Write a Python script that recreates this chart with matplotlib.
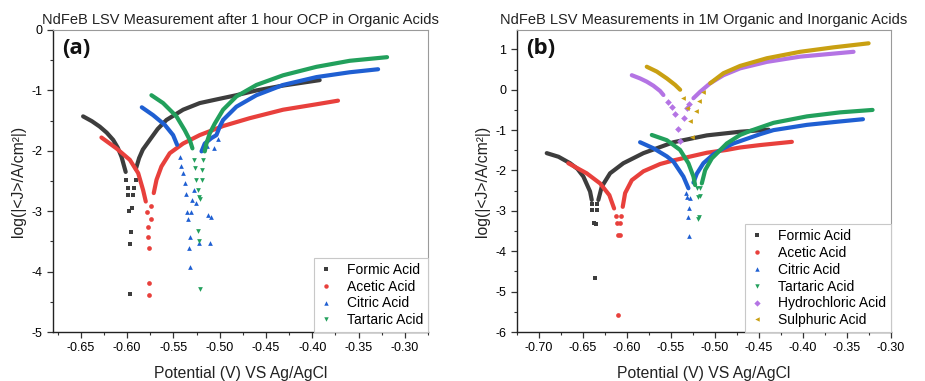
import matplotlib
matplotlib.use('Agg')
import matplotlib.pyplot as plt
from matplotlib.ticker import MultipleLocator, FormatStrFormatter
from matplotlib.lines import Line2D

plt.rcParams['font.family'] = ['Liberation Sans', 'DejaVu Sans']
plt.rcParams['axes.unicode_minus'] = False

# ---------------- Panel (a) data: (potential V, log|J|) ----------------
A_FORMIC_CATH = [(-0.6475, -1.43), (-0.638, -1.51), (-0.6295, -1.60), (-0.622, -1.70),
                 (-0.615, -1.82), (-0.610, -1.95), (-0.606, -2.10), (-0.6015, -2.35)]
A_FORMIC_DIP = [(-0.6007, -2.48), (-0.599, -2.62), (-0.599, -2.74), (-0.594, -2.74),
                (-0.598, -2.99), (-0.595, -2.95), (-0.5955, -3.35), (-0.597, -3.55),
                (-0.5965, -4.37), (-0.5925, -2.62), (-0.5906, -2.48)]
A_FORMIC_ANOD = [(-0.5905, -2.30), (-0.587, -2.12), (-0.583, -1.98), (-0.5755, -1.82),
                 (-0.567, -1.64), (-0.5575, -1.49), (-0.5395, -1.32), (-0.5215, -1.21),
                 (-0.5035, -1.15), (-0.482, -1.08), (-0.460, -1.00), (-0.4315, -0.92),
                 (-0.392, -0.83)]

A_ACETIC_CATH = [(-0.6277, -1.78), (-0.6115, -1.96), (-0.597, -2.15), (-0.588, -2.37),
                 (-0.5827, -2.65), (-0.5798, -2.84)]
A_ACETIC_DIP = [(-0.5784, -3.01), (-0.5773, -3.26), (-0.5776, -3.42), (-0.5758, -3.61),
                (-0.5766, -4.19), (-0.5758, -4.38), (-0.5737, -2.92), (-0.5747, -3.13)]
A_ACETIC_ANOD = [(-0.5712, -2.70), (-0.5682, -2.48), (-0.5629, -2.26), (-0.5539, -2.04),
                 (-0.5395, -1.88), (-0.5215, -1.74), (-0.4963, -1.59), (-0.4675, -1.46),
                 (-0.4315, -1.32), (-0.3955, -1.23), (-0.3722, -1.17)]

A_CITRIC_CATH = [(-0.5841, -1.28), (-0.5719, -1.41), (-0.5593, -1.57), (-0.5503, -1.74),
                 (-0.546, -1.90)]
A_CITRIC_DIP = [(-0.5431, -2.10), (-0.5413, -2.26), (-0.5395, -2.37), (-0.5377, -2.54),
                (-0.5359, -2.72), (-0.5352, -3.01), (-0.5341, -3.13), (-0.5323, -3.42),
                (-0.5330, -3.61), (-0.5323, -3.93), (-0.5305, -3.01), (-0.5294, -2.81),
                (-0.5251, -2.87), (-0.5276, -2.65), (-0.5226, -3.52), (-0.5107, -3.52),
                (-0.5122, -3.06), (-0.5096, -3.09), (-0.5140, -1.92), (-0.5060, -1.95),
                (-0.5020, -1.80)]
A_CITRIC_ANOD = [(-0.5196, -2.01), (-0.5161, -1.88), (-0.5089, -1.79), (-0.5035, -1.74),
                 (-0.4999, -1.60), (-0.4963, -1.49), (-0.4819, -1.27), (-0.4603, -1.08),
                 (-0.4315, -0.91), (-0.3955, -0.78), (-0.3595, -0.70), (-0.3289, -0.65)]

A_TARTARIC_CATH = [(-0.5737, -1.08), (-0.5611, -1.21), (-0.5467, -1.43), (-0.5377, -1.66),
                   (-0.5323, -1.82), (-0.5294, -1.96)]
A_TARTARIC_DIP = [(-0.5280, -2.15), (-0.5262, -2.29), (-0.5251, -2.48), (-0.5233, -2.65),
                  (-0.5226, -2.76), (-0.5233, -3.33), (-0.5222, -3.50), (-0.5215, -4.28),
                  (-0.5179, -2.15), (-0.5196, -2.32), (-0.5186, -2.48), (-0.5208, -2.79)]
A_TARTARIC_ANOD = [(-0.5161, -2.01), (-0.5143, -1.88), (-0.5107, -1.71), (-0.5053, -1.55),
                   (-0.4963, -1.32), (-0.4819, -1.10), (-0.4603, -0.91), (-0.4315, -0.75),
                   (-0.3955, -0.61), (-0.3595, -0.51), (-0.3192, -0.45)]

# ---------------- Panel (b) data ----------------
B_FORMIC_CATH = [(-0.6909, -1.57), (-0.6775, -1.66), (-0.6644, -1.82), (-0.6560, -1.96),
                 (-0.6493, -2.15), (-0.6417, -2.52), (-0.6398, -2.73)]
B_FORMIC_DIP = [(-0.6398, -2.83), (-0.6334, -2.83), (-0.6395, -2.99), (-0.6340, -2.99),
                (-0.6375, -3.31), (-0.6355, -3.33), (-0.6364, -4.66)]
B_FORMIC_ANOD = [(-0.6323, -2.73), (-0.6284, -2.40), (-0.6190, -2.07), (-0.6039, -1.82),
                 (-0.5811, -1.57), (-0.547, -1.30), (-0.509, -1.13), (-0.4713, -1.04),
                 (-0.439, -0.99)]

B_ACETIC_CATH = [(-0.6664, -1.82), (-0.6455, -2.07), (-0.6303, -2.32), (-0.6198, -2.61),
                 (-0.6144, -2.94)]
B_ACETIC_DIP = [(-0.6122, -3.13), (-0.6068, -3.13), (-0.6115, -3.29), (-0.6076, -3.29),
                (-0.6095, -3.60), (-0.6080, -3.60), (-0.6095, -5.57)]
B_ACETIC_ANOD = [(-0.6046, -2.90), (-0.6019, -2.56), (-0.5943, -2.24), (-0.5811, -2.02),
                 (-0.5622, -1.84), (-0.547, -1.75), (-0.525, -1.64), (-0.509, -1.56),
                 (-0.4864, -1.49), (-0.4713, -1.43), (-0.4485, -1.37), (-0.4125, -1.29)]

B_CITRIC_CATH = [(-0.5849, -1.30), (-0.5697, -1.45), (-0.5545, -1.65), (-0.547, -1.78),
                 (-0.5357, -2.15), (-0.53, -2.44)]
B_CITRIC_DIP = [(-0.5318, -2.65), (-0.5281, -2.69), (-0.5289, -2.94), (-0.5307, -3.14),
                (-0.5292, -3.61), (-0.5330, -2.56)]
B_CITRIC_ANOD = [(-0.5243, -2.30), (-0.5205, -2.08), (-0.513, -1.82), (-0.5016, -1.60),
                 (-0.4902, -1.45), (-0.4789, -1.33), (-0.4485, -1.10), (-0.4334, -1.00),
                 (-0.3955, -0.87), (-0.36, -0.79), (-0.3318, -0.73)]

B_TARTARIC_CATH = [(-0.5716, -1.12), (-0.5545, -1.25), (-0.5395, -1.49), (-0.53, -1.82),
                   (-0.5243, -2.15), (-0.5224, -2.36)]
B_TARTARIC_DIP = [(-0.5205, -2.44), (-0.5167, -2.44), (-0.5186, -2.66), (-0.5175, -3.14),
                  (-0.5186, -3.20), (-0.5170, -2.62)]
B_TARTARIC_ANOD = [(-0.5148, -2.32), (-0.511, -1.99), (-0.5034, -1.70), (-0.4864, -1.33),
                   (-0.4713, -1.12), (-0.4599, -1.02), (-0.4334, -0.82), (-0.3955, -0.66),
                   (-0.3576, -0.56), (-0.3209, -0.50)]

B_HCL_CATH = [(-0.5943, 0.36), (-0.5849, 0.28), (-0.5773, 0.20), (-0.5698, 0.10),
              (-0.5622, -0.03), (-0.5584, -0.13)]
B_HCL_DIP = [(-0.5527, -0.30), (-0.5482, -0.42), (-0.5451, -0.60), (-0.5414, -0.98),
             (-0.5390, -1.27), (-0.5345, -0.71), (-0.5318, -0.46), (-0.5288, -0.35)]
B_HCL_ANOD = [(-0.5243, -0.21), (-0.5167, -0.05), (-0.5053, 0.16), (-0.4902, 0.36),
              (-0.4713, 0.53), (-0.4409, 0.69), (-0.4031, 0.82), (-0.3727, 0.88),
              (-0.3425, 0.94)]

B_H2SO4_CATH = [(-0.5773, 0.57), (-0.5659, 0.45), (-0.5545, 0.28), (-0.5451, 0.12),
                (-0.5394, 0.0)]
B_H2SO4_DIP = [(-0.5364, -0.21), (-0.5318, -0.44), (-0.5281, -0.77), (-0.5261, -1.18),
               (-0.5213, -0.52), (-0.5175, -0.27), (-0.513, -0.05)]
B_H2SO4_ANOD = [(-0.5053, 0.16), (-0.4902, 0.41), (-0.4713, 0.59), (-0.4409, 0.78),
                (-0.4031, 0.94), (-0.3652, 1.05), (-0.3254, 1.15)]

LABELS = ['Formic Acid', 'Acetic Acid', 'Citric Acid', 'Tartaric Acid',
          'Hydrochloric Acid', 'Sulphuric Acid']
COLORS = ['#3d3d3d', '#e8403c', '#1f5fd2', '#22a05c', '#b474e4', '#c9a012']
MARKERS = ['s', 'o', '^', 'v', 'D', '<']

SERIES_A = [(A_FORMIC_CATH, A_FORMIC_ANOD, A_FORMIC_DIP),
            (A_ACETIC_CATH, A_ACETIC_ANOD, A_ACETIC_DIP),
            (A_CITRIC_CATH, A_CITRIC_ANOD, A_CITRIC_DIP),
            (A_TARTARIC_CATH, A_TARTARIC_ANOD, A_TARTARIC_DIP)]
SERIES_B = [(B_FORMIC_CATH, B_FORMIC_ANOD, B_FORMIC_DIP),
            (B_ACETIC_CATH, B_ACETIC_ANOD, B_ACETIC_DIP),
            (B_CITRIC_CATH, B_CITRIC_ANOD, B_CITRIC_DIP),
            (B_TARTARIC_CATH, B_TARTARIC_ANOD, B_TARTARIC_DIP),
            (B_HCL_CATH, B_HCL_ANOD, B_HCL_DIP),
            (B_H2SO4_CATH, B_H2SO4_ANOD, B_H2SO4_DIP)]

fig = plt.figure(figsize=(9.25, 3.81), dpi=100)
axa = fig.add_axes([0.0573, 0.1286, 0.4054, 0.7927])
axb = fig.add_axes([0.5586, 0.1286, 0.4046, 0.7927])


def draw(ax, series):
    handles = []
    for i, (cath, anod, dip) in enumerate(series):
        c, m = COLORS[i], MARKERS[i]
        for br in (cath, anod):
            x, y = zip(*br)
            ax.plot(x, y, '-', color=c, lw=3.0, solid_capstyle='round',
                    solid_joinstyle='round')
        x, y = zip(*dip)
        ax.plot(x, y, ls='none', marker=m, color=c, ms=3.4, mew=0)
        handles.append(Line2D([], [], ls='none', marker=m, color=c, ms=3.2, mew=0,
                              label=LABELS[i]))
    leg = ax.legend(handles=handles, loc='lower right', borderaxespad=0,
                    fontsize=10, frameon=True, fancybox=False, framealpha=1,
                    edgecolor='#c8c8c8', handlelength=1.0, handletextpad=1.0,
                    labelspacing=0.2, borderpad=0.35)
    leg.get_frame().set_linewidth(0.8)


def style(ax, xlim, ylim, title, tag):
    ax.set_xlim(*xlim)
    ax.set_ylim(*ylim)
    ax.xaxis.set_major_locator(MultipleLocator(0.05))
    ax.xaxis.set_minor_locator(MultipleLocator(0.025))
    ax.xaxis.set_major_formatter(FormatStrFormatter('%.2f'))
    ax.yaxis.set_major_locator(MultipleLocator(1))
    ax.yaxis.set_minor_locator(MultipleLocator(0.5))
    ax.tick_params(which='both', direction='out', labelsize=9, color='#333333')
    ax.tick_params(which='major', length=4, width=0.9)
    ax.tick_params(which='minor', length=2.5, width=0.8)
    for s in ('left', 'bottom'):
        ax.spines[s].set_color('#222222')
        ax.spines[s].set_linewidth(1.0)
    for s in ('top', 'right'):
        ax.spines[s].set_color('#9a9a9a')
        ax.spines[s].set_linewidth(0.8)
    ax.set_title(title, fontsize=10.5, pad=4, color='#222222')
    ax.set_xlabel('Potential (V) VS Ag/AgCl', fontsize=11.3, labelpad=8, color='#222222')
    ax.set_ylabel('log(|<J>/A/cm²|)', fontsize=11.3, labelpad=4, color='#222222')
    ax.text(0.024, 0.975, tag, transform=ax.transAxes, ha='left', va='top',
            fontsize=16, fontweight='bold', family=['Open Sans', 'DejaVu Sans'],
            color='#111111')


draw(axa, SERIES_A)
draw(axb, SERIES_B)
style(axa, (-0.68, -0.275), (-5, 0),
      'NdFeB LSV Measurement after 1 hour OCP in Organic Acids', '(a)')
style(axb, (-0.725, -0.30), (-6, 1.48),
      'NdFeB LSV Measurements in 1M Organic and Inorganic Acids', '(b)')

fig.savefig('out.png', dpi=100)
